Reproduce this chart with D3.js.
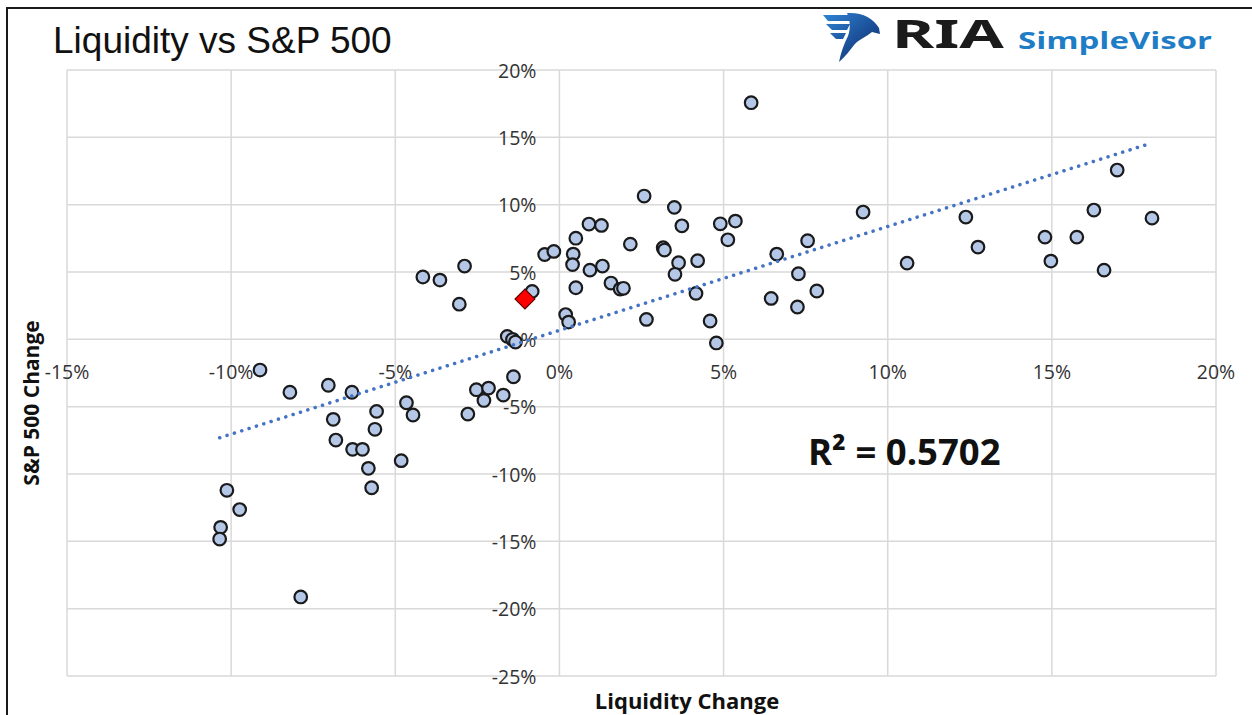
<!DOCTYPE html>
<html>
<head>
<meta charset="utf-8">
<script src="https://d3js.org/d3.v7.min.js"></script>
<style>
    body { margin: 0; background: #fff; }
    svg { display: block; }
</style>
</head>
<body>
<div id="chart"></div>
<script>
// liquidity change (%) vs S&P 500 change (%)
var liquidityChange = [-9.12, -8.21, -7.04, -6.32, -6.89, -6.81, -6.30, -6.00, -5.57, -5.62,
    -5.82, -5.72, -4.82, -4.66, -4.46, -4.16, -3.64, -2.89, -3.05, -2.79,
    -2.53, -2.30, -2.16, -1.71, -1.40, -1.59, -1.43, -1.34, -0.83, -0.45,
    -0.17, 0.19, 0.28, 0.50, 0.42, 0.40, 0.50, 0.90, 1.28, 0.93,
    1.31, 1.57, 1.85, 1.95, 2.16, 2.58, 2.65, 3.16, 3.20, 3.50,
    3.73, 3.63, 3.52, 4.21, 4.16, 4.59, 4.78, 4.90, 5.36, 5.13,
    6.45, 6.62, 7.25, 7.28, 7.56, 7.84, -10.13, -9.74, -10.32, -10.35,
    -7.88, 5.84, 9.25, 10.59, 12.38, 12.75, 14.79, 14.97, 15.76, 16.28,
    16.59, 16.99, 18.05];

var spxChange = [-2.28, -3.93, -3.41, -3.93, -5.94, -7.48, -8.17, -8.17, -5.35, -6.68,
    -9.58, -11.02, -9.01, -4.71, -5.62, 4.63, 4.40, 5.44, 2.61, -5.55,
    -3.74, -4.54, -3.62, -4.14, -2.78, 0.22, -0.01, -0.20, 3.56, 6.30,
    6.53, 1.84, 1.28, 7.51, 6.33, 5.55, 3.83, 8.56, 8.46, 5.14,
    5.44, 4.18, 3.73, 3.79, 7.07, 10.64, 1.48, 6.80, 6.63, 9.80,
    8.43, 5.69, 4.83, 5.84, 3.41, 1.36, -0.27, 8.58, 8.78, 7.39,
    3.04, 6.33, 2.40, 4.87, 7.32, 3.59, -11.21, -12.64, -13.96, -14.83,
    -19.13, 17.57, 9.45, 5.66, 9.08, 6.85, 7.59, 5.81, 7.59, 9.60,
    5.14, 12.57, 9.00];

// latest reading (red diamond)
var currentLiquidity = [-1.05];
var currentSpx = [2.99];

var xTicks = [-15, -10, -5, 0, 5, 10, 15, 20];
var yTicks = [20, 15, 10, 5, 0, -5, -10, -15, -20, -25];
var rSquaredLabel = 'R\u00b2 = 0.5702';

var width = 1252,
    height = 715;

var x = d3.scaleLinear().domain([-15, 20]).range([67, 1216]);
var y = d3.scaleLinear().domain([-25, 20]).range([676, 70]);

var svg = d3.select('#chart')
    .append('svg')
    .attr('width', width)
    .attr('height', height);

svg.append('rect')
    .attr('width', width)
    .attr('height', height)
    .attr('fill', '#fff');

// frame
svg.append('path')
    .attr('d', 'M7,' + height + 'V8H' + width)
    .attr('fill', 'none')
    .attr('stroke', '#1a1a1a')
    .attr('stroke-width', 2);

// gridlines
var grid = svg.append('g').attr('class', 'grid');

grid.selectAll('.vline')
    .data(xTicks)
    .enter()
    .append('line')
    .attr('x1', function(d) { return x(d); })
    .attr('x2', function(d) { return x(d); })
    .attr('y1', y(20))
    .attr('y2', y(-25))
    .attr('stroke', '#d9d9d9')
    .attr('stroke-width', 1.5);

grid.selectAll('.hline')
    .data(yTicks)
    .enter()
    .append('line')
    .attr('x1', x(-15))
    .attr('x2', x(20))
    .attr('y1', function(d) { return y(d); })
    .attr('y2', function(d) { return y(d); })
    .attr('stroke', '#d9d9d9')
    .attr('stroke-width', 1.5);

// tick labels (axes cross at 0,0 like excel)
var tickFont = '"Open Sans", sans-serif';

svg.append('g')
    .selectAll('text')
    .data(xTicks)
    .enter()
    .append('text')
    .attr('x', function(d) { return x(d); })
    .attr('y', y(0) + 32)
    .attr('text-anchor', 'middle')
    .attr('dominant-baseline', 'central')
    .attr('font-family', tickFont)
    .attr('font-size', 19.5)
    .attr('fill', '#333')
    .text(function(d) { return d + '%'; });

svg.append('g')
    .selectAll('text')
    .data(yTicks)
    .enter()
    .append('text')
    .attr('x', x(0) - 23)
    .attr('y', function(d) { return y(d); })
    .attr('text-anchor', 'end')
    .attr('dominant-baseline', 'central')
    .attr('font-family', tickFont)
    .attr('font-size', 19.5)
    .attr('fill', '#333')
    .text(function(d) { return d + '%'; });

// points
var points = liquidityChange.map(function(d, i) {
    return { x: d, y: spxChange[i] };
});

svg.append('g')
    .selectAll('circle')
    .data(points)
    .enter()
    .append('circle')
    .attr('cx', function(d) { return x(d.x); })
    .attr('cy', function(d) { return y(d.y); })
    .attr('r', 6.3)
    .attr('fill', '#b4c7e7')
    .attr('stroke', '#1a1a1a')
    .attr('stroke-width', 2.2);

// linear trendline (least squares)
var mx = d3.mean(points, function(d) { return d.x; }),
    my = d3.mean(points, function(d) { return d.y; });
var sxy = d3.sum(points, function(d) { return (d.x - mx) * (d.y - my); }),
    sxx = d3.sum(points, function(d) { return (d.x - mx) * (d.x - mx); });
var slope = sxy / sxx,
    intercept = my - slope * mx;
var xExt = d3.extent(points, function(d) { return d.x; });

var trend = d3.line()
    .x(function(d) { return x(d); })
    .y(function(d) { return y(intercept + slope * d); });

svg.append('path')
    .datum(xExt)
    .attr('d', trend)
    .attr('fill', 'none')
    .attr('stroke', '#4472c4')
    .attr('stroke-width', 3.5)
    .attr('stroke-linecap', 'round')
    .attr('stroke-dasharray', '0.1 7.6');

// current reading
svg.append('g')
    .selectAll('path')
    .data(currentLiquidity)
    .enter()
    .append('path')
    .attr('d', d3.symbol().type(d3.symbolDiamond2).size(250))
    .attr('transform', function(d, i) {
        return 'translate(' + x(d) + ',' + y(currentSpx[i]) + ')';
    })
    .attr('fill', '#ff0000')
    .attr('stroke', '#5a0000')
    .attr('stroke-width', 1.2);

// titles
svg.append('text')
    .attr('x', 53)
    .attr('y', 53)
    .attr('font-family', '"Liberation Sans", Arial, sans-serif')
    .attr('font-size', 37)
    .attr('fill', '#111')
    .text('Liquidity vs S&P 500');

svg.append('text')
    .attr('x', 687)
    .attr('y', 709)
    .attr('text-anchor', 'middle')
    .attr('font-family', '"Open Sans", sans-serif')
    .attr('font-weight', 'bold')
    .attr('font-size', 22)
    .attr('fill', '#111')
    .text('Liquidity Change');

svg.append('text')
    .attr('transform', 'translate(39,403) rotate(-90)')
    .attr('text-anchor', 'middle')
    .attr('font-family', '"Open Sans", sans-serif')
    .attr('font-weight', 'bold')
    .attr('font-size', 21)
    .attr('fill', '#111')
    .text('S&P 500 Change');

svg.append('text')
    .attr('x', 808)
    .attr('y', 465)
    .attr('font-family', '"Open Sans", sans-serif')
    .attr('font-weight', 'bold')
    .attr('font-size', 36.5)
    .attr('fill', '#111')
    .text(rSquaredLabel);

// logo
var logo = svg.append('g').attr('class', 'logo');

var grad = svg.append('defs')
    .append('linearGradient')
    .attr('id', 'eagle')
    .attr('x1', '0%').attr('y1', '0%')
    .attr('x2', '100%').attr('y2', '100%');
grad.append('stop').attr('offset', '0%').attr('stop-color', '#2f86d6');
grad.append('stop').attr('offset', '100%').attr('stop-color', '#0b2466');

logo.append('path')
    .attr('d', 'M823,15 L856,15 L852,21 L828,21 Z' +
        'M826,24 L850,24 L847,30 L832,30 Z' +
        'M830,33 L846,33 L843,39 L836,39 Z' +
        'M847,13 C862,12 873,18 879,28 L880,34 L872,32 C866,37 858,40 854,45 ' +
        'C850,50 846,56 839,62 C841,52 844,44 848,36 C851,28 850,20 847,13 Z')
    .attr('fill', 'url(#eagle)');

logo.append('text')
    .attr('x', 892)
    .attr('y', 48)
    .attr('font-family', '"Noto Sans", sans-serif')
    .attr('font-weight', 'bold')
    .attr('font-size', 39)
    .attr('textLength', 112)
    .attr('lengthAdjust', 'spacingAndGlyphs')
    .attr('fill', '#1b1b1b')
    .text('RIA');

logo.append('text')
    .attr('x', 1018)
    .attr('y', 49)
    .attr('font-family', '"Open Sans", sans-serif')
    .attr('font-weight', 'bold')
    .attr('font-size', 24)
    .attr('textLength', 194)
    .attr('lengthAdjust', 'spacingAndGlyphs')
    .attr('fill', '#1f7dc6')
    .text('SimpleVisor');
</script>
</body>
</html>
